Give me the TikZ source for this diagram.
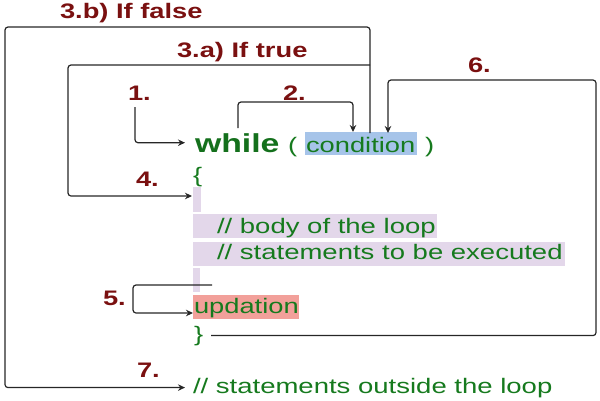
\documentclass[tikz,border=0pt]{standalone}
\usepackage{fontspec}
\setmainfont{Liberation Sans}
\usepackage{graphicx}
\usetikzlibrary{arrows.meta}
\definecolor{codegreen}{RGB}{22,122,30}
\definecolor{kwgreen}{RGB}{20,112,28}
\definecolor{lblred}{RGB}{122,16,16}
\definecolor{hlblue}{RGB}{166,196,233}
\definecolor{hlpurple}{RGB}{227,215,234}
\definecolor{hlred}{RGB}{242,160,154}
\newcommand{\wide}[1]{\scalebox{1.3}[1]{#1}}
\newcommand{\widec}[1]{\scalebox{1.31}[1]{#1}}
\begin{document}
\begin{tikzpicture}[x=1pt,y=-1pt,
  code/.style={anchor=base west,inner sep=0pt,outer sep=0pt,text=codegreen,font=\fontsize{21}{21}\selectfont},
  kw/.style={code,text=kwgreen,font=\fontsize{26}{26}\selectfont\bfseries},
  lbl/.style={anchor=base west,inner sep=0pt,outer sep=0pt,text=lblred,font=\fontsize{21}{21}\selectfont\bfseries},
  conn/.style={draw=black!85,line width=1.2pt,rounded corners=3pt},
  arr/.style={conn,-{Stealth[length=7pt,width=6.5pt]}}]
\useasboundingbox (0,0) rectangle (600,400);
% highlights
\fill[hlblue] (305,132) rectangle (417,155);
\fill[hlpurple] (193,187) rectangle (201,212);
\fill[hlpurple] (193,214) rectangle (437,238);
\fill[hlpurple] (193,242) rectangle (565,266);
\fill[hlpurple] (193,268) rectangle (200,292);
\fill[hlred] (193,295) rectangle (299,319);
% code text
\node[kw] (while) at (195,152) {\wide{while}};
\node[code] (lpar) at (288,152) {\wide{(}};
\node[code] (cond) at (306,152) {\wide{condition}};
\node[code] (rpar) at (425,152) {\wide{)}};
\node[code] (lbrace) at (193,182) {\wide{\{}};
\node[code] (body) at (217,233) {\widec{// body of the loop}};
\node[code] (stmts) at (217,259) {\widec{// statements to be executed}};
\node[code] (upd) at (194,313) {\wide{updation}};
\node[code] (rbrace) at (194,341) {\wide{\}}};
\node[code] (outside) at (193,393) {\widec{// statements outside the loop}};
% labels
\node[lbl] (l3b) at (60,18) {\wide{3.b) If false}};
\node[lbl] (l3a) at (177,57) {\wide{3.a) If true}};
\node[lbl] (l1) at (128,100) {\wide{1.}};
\node[lbl] (l2) at (283,100) {\wide{2.}};
\node[lbl] (l6) at (468,72) {\wide{6.}};
\node[lbl] (l4) at (136,186) {\wide{4.}};
\node[lbl] (l5) at (103,305) {\wide{5.}};
\node[lbl] (l7) at (137,377) {\wide{7.}};
% connector ends
\coordinate (s1) at (135,107);
\coordinate (s2) at (238,128);
\coordinate (t2) at (353,132);
\coordinate (s3) at (370,133);
\coordinate (j3a) at (370,65);
\coordinate (t4) at (192,196);
\coordinate (s5) at (212,285);
\coordinate (t5) at (193,313);
\coordinate (s6) at ([xshift=8pt]rbrace.east);
\coordinate (t6) at (388,133);
% connectors
\draw[arr] (s1) |- ([xshift=-10pt]while.west);
\draw[arr] (s2) -- ++(0,-26) -| (t2);
\draw[arr] (s3) |- (5,27) |- ([xshift=-8pt]outside.west);
\draw[arr] (j3a) -| (68,150) |- (t4);
\draw[arr] (s5) -| (133,300) |- (t5);
\draw[arr] (s6) -| (596,80) -| (t6);
\end{tikzpicture}
\end{document}
